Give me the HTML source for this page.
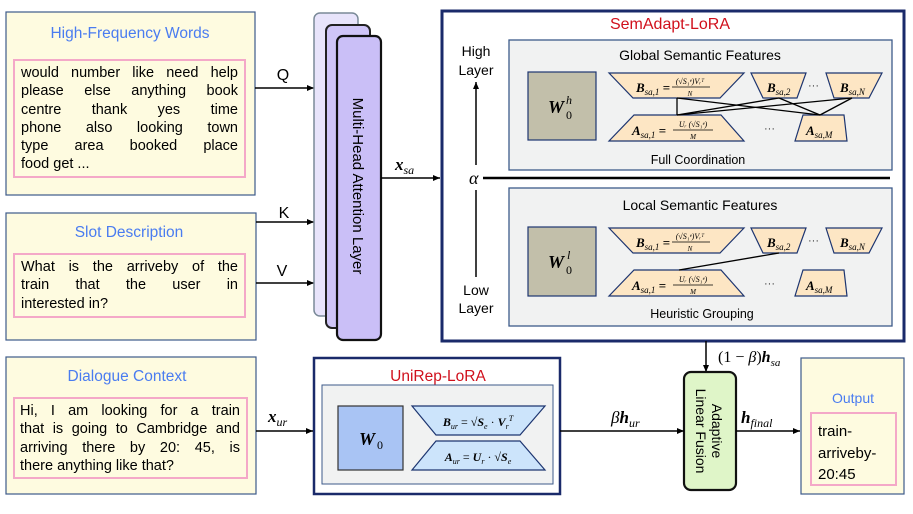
<!DOCTYPE html>
<html><head><meta charset="utf-8"><style>
html,body{margin:0;padding:0;background:#fff;width:913px;height:514px;overflow:hidden}
.wrap{position:relative;width:913px;height:514px;font-family:"Liberation Sans",sans-serif}
svg{position:absolute;left:0;top:0}
.p{position:absolute;font-size:14.5px;color:#000;line-height:18.3px}
.p div{text-align:justify;text-align-last:justify;white-space:nowrap}
.p div.l{text-align-last:left}
</style></head><body><div class="wrap">
<svg width="913" height="514" viewBox="0 0 913 514" font-family="Liberation Sans, sans-serif">
<defs><marker id="ar" markerWidth="8" markerHeight="8" refX="7" refY="4" orient="auto" markerUnits="userSpaceOnUse"><path d="M0,1 L7,4 L0,7 z" fill="#000"/></marker></defs>
<rect x="6" y="12" width="249" height="183" fill="#fefbe0" stroke="#3d5a8a" stroke-width="1.2"/>
<rect x="14" y="60" width="231" height="117" fill="none" stroke="#f4a8c8" stroke-width="2"/>
<text x="130" y="38" font-size="15.5" fill="#4a7cf0" text-anchor="middle">High-Frequency Words</text>
<rect x="6" y="213" width="250" height="127" fill="#fefbe0" stroke="#3d5a8a" stroke-width="1.2"/>
<rect x="14" y="254" width="231" height="63" fill="none" stroke="#f4a8c8" stroke-width="2"/>
<text x="129" y="237" font-size="15.5" fill="#4a7cf0" text-anchor="middle">Slot Description</text>
<rect x="6" y="357" width="250" height="137" fill="#fefbe0" stroke="#3d5a8a" stroke-width="1.2"/>
<rect x="14" y="398" width="233" height="80" fill="none" stroke="#f4a8c8" stroke-width="2"/>
<text x="127" y="381" font-size="15.5" fill="#4a7cf0" text-anchor="middle">Dialogue Context</text>
<line x1="255" y1="88" x2="314" y2="88" stroke="#000" stroke-width="1.5" marker-end="url(#ar)"/>
<line x1="256" y1="222" x2="314" y2="222" stroke="#000" stroke-width="1.5" marker-end="url(#ar)"/>
<line x1="256" y1="283" x2="314" y2="283" stroke="#000" stroke-width="1.5" marker-end="url(#ar)"/>
<text x="283" y="80" font-size="16" text-anchor="middle">Q</text>
<text x="284" y="218" font-size="16" text-anchor="middle">K</text>
<text x="282" y="276" font-size="16" text-anchor="middle">V</text>
<rect x="314" y="13" width="44" height="303" rx="6" fill="#e8e4fb" stroke="#7a8a98" stroke-width="1.5"/>
<rect x="326" y="25" width="44" height="303" rx="6" fill="#cfc5f7" stroke="#222" stroke-width="2"/>
<rect x="337" y="36" width="44" height="304" rx="6" fill="#cabff7" stroke="#111" stroke-width="2.2"/>
<text transform="translate(353,186) rotate(90)" font-size="15" text-anchor="middle">Multi-Head Attention Layer</text>
<line x1="381" y1="178" x2="440" y2="178" stroke="#000" stroke-width="1.5" marker-end="url(#ar)"/>
<text x="395" y="170" font-size="17" font-family="Liberation Serif, serif" font-weight="bold" font-style="italic">x<tspan font-size="12" font-weight="normal" dy="4">sa</tspan></text>
<rect x="442" y="11" width="462" height="330" fill="#fff" stroke="#1a2a6a" stroke-width="3"/>
<text x="670" y="29" font-size="16" fill="#d0101c" text-anchor="middle">SemAdapt-LoRA</text>
<rect x="509" y="40" width="383" height="130" fill="#f1f2f2" stroke="#3d5a8a" stroke-width="1.3"/>
<rect x="509" y="188" width="383" height="138" fill="#f1f2f2" stroke="#3d5a8a" stroke-width="1.3"/>
<text x="476" y="56" font-size="14" text-anchor="middle">High</text>
<text x="476" y="75" font-size="14" text-anchor="middle">Layer</text>
<line x1="476" y1="165" x2="476" y2="82" stroke="#000" stroke-width="1.5" marker-end="url(#ar)"/>
<text x="469" y="184" font-size="18" font-family="Liberation Serif, serif" font-style="italic">α</text>
<line x1="483" y1="178" x2="890" y2="178" stroke="#000" stroke-width="2.5"/>
<line x1="476" y1="190" x2="476" y2="277" stroke="#000" stroke-width="1.5"/>
<text x="476" y="295" font-size="14" text-anchor="middle">Low</text>
<text x="476" y="313" font-size="14" text-anchor="middle">Layer</text>
<text x="700" y="60" font-size="14" text-anchor="middle">Global Semantic Features</text>
<text x="698" y="164" font-size="12.5" text-anchor="middle">Full Coordination</text>
<text x="700" y="210" font-size="14" text-anchor="middle">Local Semantic Features</text>
<text x="702" y="318" font-size="12.5" text-anchor="middle">Heuristic Grouping</text>
<g fill="#fde6c4" stroke="#1d3570" stroke-width="1.2">
<rect x="528" y="72" width="68" height="68" fill="#c2bfaa"/>
<polygon points="609,73 744,73 720,98 633,98"/>
<polygon points="751,73 806,73 797,98 763,98"/>
<polygon points="826,73 882,73 869,98 834,98"/>
<polygon points="634,115 721,115 744,141 609,141"/>
<polygon points="803,115 844,115 847,141 795,141"/>
<rect x="528" y="227" width="68" height="69" fill="#c2bfaa"/>
<polygon points="609,228 744,228 720,253 633,253"/>
<polygon points="751,228 806,228 797,253 763,253"/>
<polygon points="826,228 882,228 869,253 834,253"/>
<polygon points="634,270 721,270 744,296 609,296"/>
<polygon points="803,270 844,270 847,296 795,296"/>
</g>
<g stroke="#000" stroke-width="1.3">
<line x1="677" y1="98" x2="677" y2="115"/>
<line x1="677" y1="98" x2="820" y2="115"/>
<line x1="779" y1="98" x2="677" y2="115"/>
<line x1="779" y1="98" x2="820" y2="115"/>
<line x1="852" y1="98" x2="677" y2="115"/>
<line x1="852" y1="98" x2="820" y2="115"/>
<line x1="779" y1="253" x2="679" y2="270"/>
</g>
<g font-family="Liberation Serif, serif" font-style="italic">
<text x="548" y="113" font-size="18" font-weight="bold">W</text>
<text x="566" y="104" font-size="12">h</text>
<text x="566" y="119" font-size="12" font-style="normal">0</text>
<text x="548" y="268" font-size="18" font-weight="bold">W</text>
<text x="567" y="259" font-size="12">l</text>
<text x="566" y="274" font-size="12" font-style="normal">0</text>
<g font-size="13">
<text x="636" y="92" font-weight="bold">B<tspan font-size="9" font-weight="normal" dy="3">sa,1</tspan><tspan dy="-3" font-style="normal"> =</tspan></text>
<text x="690" y="84" font-size="8" text-anchor="middle">(√S₁ᵉ)Vᵣᵀ</text><line x1="672" y1="87" x2="710" y2="87" stroke="#000" stroke-width="0.8"/><text x="690" y="96" font-size="7" text-anchor="middle">N</text>
<text x="767" y="92" font-weight="bold">B<tspan font-size="9" font-weight="normal" dy="3">sa,2</tspan></text>
<text x="840" y="92" font-weight="bold">B<tspan font-size="9" font-weight="normal" dy="3">sa,N</tspan></text>
<text x="632" y="135" font-weight="bold">A<tspan font-size="9" font-weight="normal" dy="3">sa,1</tspan><tspan dy="-3" font-style="normal"> =</tspan></text>
<text x="693" y="127" font-size="8" text-anchor="middle">Uᵣ (√S₁ᵉ)</text><line x1="673" y1="130" x2="713" y2="130" stroke="#000" stroke-width="0.8"/><text x="693" y="139" font-size="7" text-anchor="middle">M</text>
<text x="806" y="135" font-weight="bold">A<tspan font-size="9" font-weight="normal" dy="3">sa,M</tspan></text>
<text x="636" y="247" font-weight="bold">B<tspan font-size="9" font-weight="normal" dy="3">sa,1</tspan><tspan dy="-3" font-style="normal"> =</tspan></text>
<text x="690" y="239" font-size="8" text-anchor="middle">(√S₁ᵉ)Vᵣᵀ</text><line x1="672" y1="242" x2="710" y2="242" stroke="#000" stroke-width="0.8"/><text x="690" y="251" font-size="7" text-anchor="middle">N</text>
<text x="767" y="247" font-weight="bold">B<tspan font-size="9" font-weight="normal" dy="3">sa,2</tspan></text>
<text x="840" y="247" font-weight="bold">B<tspan font-size="9" font-weight="normal" dy="3">sa,N</tspan></text>
<text x="632" y="290" font-weight="bold">A<tspan font-size="9" font-weight="normal" dy="3">sa,1</tspan><tspan dy="-3" font-style="normal"> =</tspan></text>
<text x="693" y="282" font-size="8" text-anchor="middle">Uᵣ (√S₁ᵉ)</text><line x1="673" y1="285" x2="713" y2="285" stroke="#000" stroke-width="0.8"/><text x="693" y="294" font-size="7" text-anchor="middle">M</text>
<text x="806" y="290" font-weight="bold">A<tspan font-size="9" font-weight="normal" dy="3">sa,M</tspan></text>
</g></g>
<g font-size="11" fill="#333"><text x="808" y="89">···</text><text x="764" y="132">···</text><text x="808" y="244">···</text><text x="764" y="287">···</text></g>
<line x1="706" y1="341" x2="706" y2="372" stroke="#000" stroke-width="1.5" marker-end="url(#ar)"/>
<text x="718" y="362" font-size="16" font-family="Liberation Serif, serif">(1 − <tspan font-style="italic">β</tspan>)<tspan font-weight="bold" font-style="italic">h</tspan><tspan font-size="11" font-style="italic" dy="4">sa</tspan></text>
<rect x="684" y="372" width="52" height="118" rx="7" fill="#dff5c8" stroke="#111" stroke-width="2.2"/>
<text transform="translate(712,431) rotate(90)" font-size="14" text-anchor="middle">Adaptive</text>
<text transform="translate(696,431) rotate(90)" font-size="14" text-anchor="middle">Linear Fusion</text>
<rect x="314" y="358" width="246" height="136" fill="#fff" stroke="#1a2a6a" stroke-width="2.5"/>
<text x="438" y="381" font-size="15.5" fill="#d0101c" text-anchor="middle">UniRep-LoRA</text>
<rect x="322" y="385" width="231" height="99" fill="#f1f2f2" stroke="#3d5a8a" stroke-width="1"/>
<rect x="338" y="406" width="65" height="64" fill="#a9c4f4" stroke="#333" stroke-width="1.2"/>
<polygon points="412,406 545,406 520,435 436,435" fill="#cce4fb" stroke="#1d3570" stroke-width="1.2"/>
<polygon points="436,441 520,441 545,470 412,470" fill="#cce4fb" stroke="#1d3570" stroke-width="1.2"/>
<g font-family="Liberation Serif, serif" font-style="italic">
<text x="359" y="445" font-size="18" font-weight="bold">W</text>
<text x="377" y="449" font-size="12" font-style="normal">0</text>
<text x="478" y="426" font-size="12" text-anchor="middle"><tspan font-weight="bold">B</tspan><tspan font-size="8" dy="3">ur</tspan><tspan dy="-3" font-style="normal"> = √</tspan><tspan font-weight="bold">S</tspan><tspan font-size="8" dy="3">e</tspan><tspan dy="-3" font-style="normal"> · </tspan><tspan font-weight="bold">V</tspan><tspan font-size="8" dy="3">r</tspan><tspan font-size="8" dy="-8">T</tspan></text>
<text x="478" y="461" font-size="12" text-anchor="middle"><tspan font-weight="bold">A</tspan><tspan font-size="8" dy="3">ur</tspan><tspan dy="-3" font-style="normal"> = </tspan><tspan font-weight="bold">U</tspan><tspan font-size="8" dy="3">r</tspan><tspan dy="-3" font-style="normal"> · √</tspan><tspan font-weight="bold">S</tspan><tspan font-size="8" dy="3">e</tspan></text>
</g>
<line x1="256" y1="431" x2="313" y2="431" stroke="#000" stroke-width="1.5" marker-end="url(#ar)"/>
<text x="268" y="422" font-size="17" font-family="Liberation Serif, serif" font-weight="bold" font-style="italic">x<tspan font-size="12" font-weight="normal" dy="4">ur</tspan></text>
<line x1="560" y1="431" x2="684" y2="431" stroke="#000" stroke-width="1.5" marker-end="url(#ar)"/>
<text x="611" y="423" font-size="17" font-family="Liberation Serif, serif" font-style="italic">β<tspan font-weight="bold">h</tspan><tspan font-size="12" dy="4">ur</tspan></text>
<line x1="736" y1="431" x2="800" y2="431" stroke="#000" stroke-width="1.5" marker-end="url(#ar)"/>
<text x="741" y="423" font-size="17" font-family="Liberation Serif, serif" font-style="italic"><tspan font-weight="bold">h</tspan><tspan font-size="12" dy="4">final</tspan></text>
<rect x="801" y="358" width="103" height="136" fill="#fefbe0" stroke="#3d5a8a" stroke-width="1.2"/>
<text x="853" y="403" font-size="14" fill="#4a7cf0" text-anchor="middle">Output</text>
<rect x="811" y="413" width="85" height="72" fill="none" stroke="#f4a8c8" stroke-width="2"/>
<text x="818" y="436" font-size="15">train-</text>
<text x="818" y="458" font-size="15">arriveby-</text>
<text x="818" y="479" font-size="15">20:45</text>
</svg>
<div class="p" style="left:21px;top:64px;width:217px">
<div>would number like need help</div><div>please else anything book</div><div>centre thank yes time</div><div>phone also looking town</div><div>type area booked place</div><div class="l">food get ...</div></div>
<div class="p" style="left:21px;top:258px;width:217px">
<div>What is the arriveby of the</div><div>train that the user in</div><div class="l">interested in?</div></div>
<div class="p" style="left:20px;top:402px;width:220px">
<div>Hi, I am looking for a train</div><div>that is going to Cambridge and</div><div>arriving there by 20: 45, is</div><div class="l">there anything like that?</div></div>
</div></body></html>
